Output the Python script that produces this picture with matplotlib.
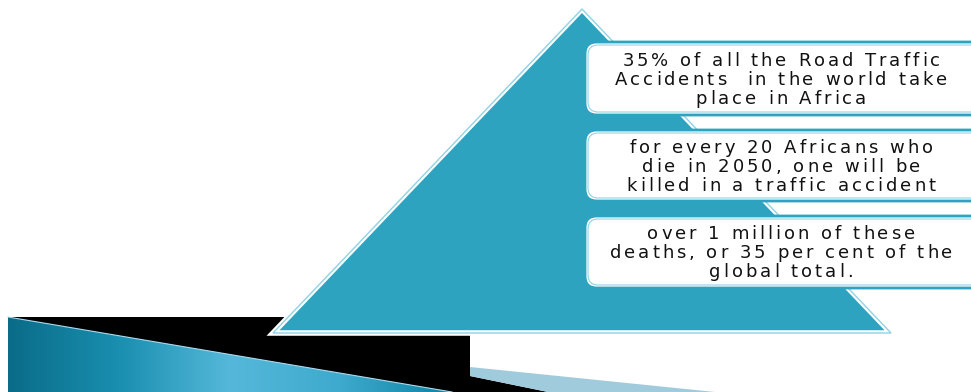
import numpy as np
import matplotlib
matplotlib.use("Agg")
import matplotlib.pyplot as plt
from matplotlib.patches import Polygon, FancyBboxPatch
from matplotlib.colors import LinearSegmentedColormap
from matplotlib import font_manager as fm
from matplotlib.ft2font import LoadFlags

# Textos de las cajas (una lista por caja)
box1_lines = ["35% of all the Road Traffic", "Accidents  in the world take", "place in Africa"]
box2_lines = ["for every 20 Africans who", "die in 2050, one will be", "killed in a traffic accident"]
box3_lines = ["over 1 million of these", "deaths, or 35 per cent of the", "global total."]
box_tops = [40, 128, 214]
box_bottoms = [117, 203, 290]

teal = "#2da3c0"
light = "#8fd3e6"
FONT_SIZE = 13
TRACKING = 3.0  # espacio extra entre letras, en pixeles

fig = plt.figure(figsize=(9.71, 3.92), dpi=100)
ax = fig.add_axes([0, 0, 1, 1])
ax.set_xlim(0, 971)
ax.set_ylim(392, 0)
ax.axis("off")

prop = fm.FontProperties(family="DejaVu Sans", size=FONT_SIZE)
ft = fm.get_font(fm.findfont(prop))
ft.set_size(FONT_SIZE, 100)


def avance(c):
    g = ft.load_char(ord(c), flags=LoadFlags.NO_HINTING)
    return g.linearHoriAdvance / 65536.0


def texto_espaciado(linea, xc, y):
    # dibuja una linea centrada con espaciado entre letras
    anchos = [avance(c) for c in linea]
    total = sum(anchos) + TRACKING * (len(linea) - 1)
    x = xc - total / 2
    for c, w in zip(linea, anchos):
        if c != " ":
            ax.text(x, y, c, ha="left", va="baseline", fontproperties=prop,
                    color="#111111", zorder=8)
        x += w + TRACKING


# Decoracion inferior izquierda
black = Polygon([(8, 317), (470, 317), (470, 376), (548, 392), (8, 392)],
                closed=True, facecolor="black", edgecolor="none", zorder=1)
ax.add_patch(black)
blue_band = Polygon([(470, 367), (715, 392), (548, 392), (470, 376)],
                    closed=True, facecolor="#9fcbdc", edgecolor="none", zorder=1)
ax.add_patch(blue_band)

wedge = Polygon([(8, 317), (452, 392), (8, 392)], closed=True,
                facecolor="none", edgecolor="none", zorder=2)
ax.add_patch(wedge)
cmap = LinearSegmentedColormap.from_list(
    "grad", ["#0a6c88", "#1a8fb0", "#55b8da", "#3eaacd", "#0c82a2"])
grad = np.linspace(0, 1, 256).reshape(1, -1)
im = ax.imshow(grad, cmap=cmap, extent=(8, 452, 392, 317), aspect="auto", zorder=2)
im.set_clip_path(wedge)
ax.plot([8, 452], [317, 392], color="#a8dcee", lw=0.8, zorder=3)

# Triangulo
tri_pts = [(582, 9), (273, 333), (891, 333)]
ax.add_patch(Polygon(tri_pts, closed=True, facecolor=teal, edgecolor="white",
                     lw=4, joinstyle="miter", zorder=4))
ax.add_patch(Polygon(tri_pts, closed=True, facecolor="none", edgecolor=light,
                     lw=1, joinstyle="miter", zorder=5))

# Cajas de texto
for lineas, top, bot in zip([box1_lines, box2_lines, box3_lines], box_tops, box_bottoms):
    box = FancyBboxPatch((585, top + 2), 400, bot - top - 4,
                         boxstyle="round,pad=0,rounding_size=12",
                         facecolor="white", edgecolor=teal, lw=2, zorder=6)
    ax.add_patch(box)
    inner = FancyBboxPatch((588, top + 5), 400, bot - top - 10,
                           boxstyle="round,pad=0,rounding_size=10",
                           facecolor="none", edgecolor=light, lw=0.8, zorder=7)
    ax.add_patch(inner)
    centro = (top + bot) / 2
    for i, linea in enumerate(lineas):
        texto_espaciado(linea, 781, centro - 13 + i * 19)

fig.savefig("out.png", dpi=100)
